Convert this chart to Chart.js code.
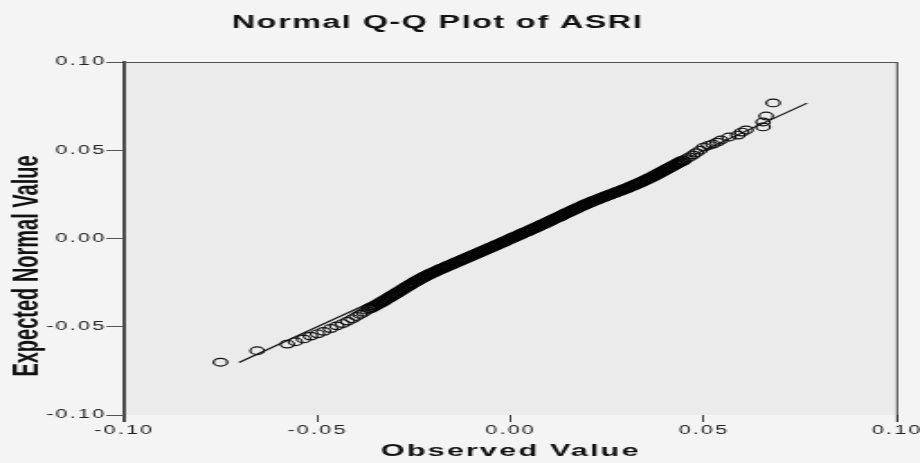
<!DOCTYPE html>
<html><head><meta charset="utf-8">
<script src="https://cdn.jsdelivr.net/npm/chart.js@4"></script>
<style>
html,body{margin:0;padding:0;background:#f4f4f4;overflow:hidden;width:920px;height:463px;}
#wrap{width:511px;height:463px;transform:scale(1.8004,1);transform-origin:0 0;}
canvas{display:block;}
</style></head><body>
<div id="wrap"><canvas id="c" width="511" height="463"></canvas></div>
<script>
const chartTitle = 'Normal Q-Q Plot of ASRI';
const xAxisTitle = 'Observed Value';
const yAxisTitle = 'Expected Normal Value';
const tickValues = [-0.10, -0.05, 0.00, 0.05, 0.10];
const tickLabels = ['-0.10', '-0.05', '0.00', '0.05', '0.10'];

const lowerTailObserved = [-0.0751,-0.0656,-0.0578,-0.0557,-0.0536,-0.0518,-0.0500,-0.0484,-0.0466,-0.0450,-0.0435,-0.0422,-0.0410,-0.0400,-0.0390,-0.0381,-0.0372];
const lowerTailExpected = [-0.0701,-0.0636,-0.0598,-0.0585,-0.0569,-0.0553,-0.0540,-0.0526,-0.0510,-0.0495,-0.0482,-0.0468,-0.0455,-0.0442,-0.0430,-0.0418,-0.0406];

const coreObserved = [
-0.0365,-0.0359,-0.0353,-0.0347,-0.0341,-0.0335,-0.0329,-0.0323,-0.0317,-0.0311,
-0.0305,-0.0299,-0.0293,-0.0287,-0.0281,-0.0275,-0.0269,-0.0263,-0.0257,-0.0251,
-0.0245,-0.0239,-0.0233,-0.0227,-0.0221,-0.0215,-0.0209,-0.0203,-0.0197,-0.0191,
-0.0185,-0.0179,-0.0173,-0.0167,-0.0161,-0.0155,-0.0149,-0.0143,-0.0137,-0.0131,
-0.0125,-0.0119,-0.0113,-0.0107,-0.0101,-0.0095,-0.0089,-0.0083,-0.0077,-0.0071,
-0.0065,-0.0059,-0.0053,-0.0047,-0.0041,-0.0035,-0.0029,-0.0023,-0.0017,-0.0011,
-0.0005,0.0001,0.0007,0.0013,0.0019,0.0025,0.0031,0.0037,0.0043,0.0049,
0.0055,0.0061,0.0067,0.0073,0.0079,0.0085,0.0091,0.0097,0.0103,0.0109,
0.0115,0.0121,0.0127,0.0133,0.0139,0.0145,0.0151,0.0157,0.0163,0.0169,
0.0175,0.0181,0.0187,0.0193,0.0199,0.0205,0.0211,0.0217,0.0223,0.0229,
0.0235,0.0241,0.0247,0.0253,0.0259,0.0265,0.0271,0.0277,0.0283,0.0289,
0.0295,0.0301,0.0307,0.0313,0.0319,0.0325,0.0331,0.0337,0.0343,0.0349,
0.0355,0.0361,0.0367,0.0373,0.0379,0.0385,0.0391,0.0397,0.0403,0.0409,
0.0415,0.0421,0.0427,0.0433,0.0439,0.0445];
const coreExpected = [
-0.0397,-0.0390,-0.0383,-0.0376,-0.0369,-0.0361,-0.0354,-0.0346,-0.0338,-0.0330,
-0.0322,-0.0314,-0.0306,-0.0298,-0.0290,-0.0282,-0.0274,-0.0266,-0.0258,-0.0250,
-0.0242,-0.0235,-0.0228,-0.0221,-0.0214,-0.0208,-0.0201,-0.0195,-0.0189,-0.0183,
-0.0177,-0.0171,-0.0166,-0.0160,-0.0154,-0.0149,-0.0143,-0.0137,-0.0132,-0.0126,
-0.0120,-0.0115,-0.0109,-0.0103,-0.0098,-0.0092,-0.0086,-0.0081,-0.0075,-0.0069,
-0.0064,-0.0058,-0.0052,-0.0047,-0.0041,-0.0035,-0.0029,-0.0024,-0.0018,-0.0012,
-0.0006,0.0000,0.0006,0.0011,0.0017,0.0023,0.0029,0.0035,0.0040,0.0046,
0.0052,0.0058,0.0064,0.0070,0.0076,0.0082,0.0088,0.0094,0.0101,0.0107,
0.0113,0.0119,0.0125,0.0132,0.0138,0.0144,0.0150,0.0157,0.0163,0.0169,
0.0175,0.0181,0.0187,0.0193,0.0198,0.0204,0.0209,0.0215,0.0220,0.0225,
0.0230,0.0235,0.0240,0.0245,0.0250,0.0255,0.0260,0.0265,0.0270,0.0275,
0.0280,0.0285,0.0291,0.0296,0.0302,0.0307,0.0313,0.0319,0.0325,0.0331,
0.0337,0.0344,0.0350,0.0357,0.0364,0.0371,0.0378,0.0385,0.0392,0.0399,
0.0406,0.0413,0.0420,0.0427,0.0434,0.0441];

const upperTailObserved = [0.0455,0.0463,0.0472,0.0480,0.0490,0.0500,0.0512,0.0523,0.0534,0.0544,0.0565,0.0588,0.0598,0.0609,0.0653,0.0653,0.0661,0.0679];
const upperTailExpected = [0.0452,0.0462,0.0474,0.0486,0.0500,0.0518,0.0528,0.0535,0.0546,0.0558,0.0575,0.0586,0.0603,0.0615,0.0632,0.0660,0.0694,0.0768];

const referenceLineEnds = [-0.0703, 0.0767];

const toPoints = (xs, ys) => xs.map((x, i) => ({x: x, y: ys[i]}));
const tailPoints = toPoints(lowerTailObserved.concat(upperTailObserved), lowerTailExpected.concat(upperTailExpected));
const corePoints = toPoints(coreObserved, coreExpected);
const linePoints = referenceLineEnds.map(v => ({x: v, y: v}));

const FONT = "'Liberation Sans', Arial, sans-serif";

const framePlugin = {
  id: 'frame',
  beforeDraw(chart) {
    const {ctx, chartArea: a} = chart;
    ctx.fillStyle = '#ebebeb';
    ctx.fillRect(a.left, a.top, a.right - a.left, a.bottom - a.top);
    ctx.letterSpacing = '1.2px';
  },
  afterDraw(chart) {
    const {ctx, chartArea: a} = chart;
    ctx.save();
    ctx.strokeStyle = '#555';
    ctx.lineWidth = 1;
    ctx.beginPath();
    ctx.moveTo(a.left, a.top + 0.5);
    ctx.lineTo(a.right, a.top + 0.5);
    ctx.stroke();
    ctx.strokeStyle = '#333';
    ctx.lineWidth = 0.9;
    ctx.beginPath();
    ctx.moveTo(a.right, a.top);
    ctx.lineTo(a.right, a.bottom + 7);
    ctx.stroke();
    ctx.strokeStyle = '#4a4a4a';
    ctx.lineWidth = 2;
    ctx.beginPath();
    ctx.moveTo(a.left, a.bottom);
    ctx.lineTo(a.left, a.bottom + 7);
    ctx.stroke();
    // chart title
    ctx.fillStyle = '#111';
    ctx.letterSpacing = '0.8px';
    ctx.font = 'bold 18px ' + FONT;
    ctx.textAlign = 'center';
    ctx.textBaseline = 'alphabetic';
    ctx.fillText(chartTitle, 243, 28);
    // y axis title
    ctx.letterSpacing = '0px';
    ctx.translate(21, 266);
    ctx.rotate(-Math.PI / 2);
    ctx.font = 'bold 20px ' + FONT;
    ctx.fillText(yAxisTitle, 0, 0);
    ctx.restore();
  }
};

new Chart(document.getElementById('c'), {
  type: 'scatter',
  data: {
    datasets: [
      {
        label: 'Observed (tails)',
        data: tailPoints,
        pointStyle: 'circle',
        pointRadius: 3.8,
        pointBorderWidth: 1.2,
        pointBorderColor: '#111',
        pointBackgroundColor: 'rgba(0,0,0,0)',
        showLine: false
      },
      {
        label: 'Observed (core)',
        data: corePoints,
        pointStyle: 'circle',
        pointRadius: 4.0,
        pointBorderWidth: 1.8,
        pointBorderColor: '#050505',
        pointBackgroundColor: 'rgba(0,0,0,0)',
        showLine: false
      },
      {
        label: 'Reference',
        data: linePoints,
        showLine: true,
        borderColor: '#111',
        borderWidth: 1.2,
        pointRadius: 0
      }
    ]
  },
  options: {
    responsive: false,
    animation: false,
    devicePixelRatio: 1,
    layout: {padding: {top: 62, right: 12.7, left: 0, bottom: 0}},
    plugins: {legend: {display: false}, title: {display: false}, tooltip: {enabled: false}},
    scales: {
      x: {
        type: 'linear', min: -0.1, max: 0.1,
        afterBuildTicks: s => { s.ticks = tickValues.map(v => ({value: v})); },
        afterFit: s => { s.height = 48; },
        ticks: {
          callback: (v, i) => tickLabels[i],
          font: {family: FONT, size: 12}, color: '#222', padding: 1,
          maxRotation: 0, autoSkip: false
        },
        grid: {drawOnChartArea: false, drawTicks: true, tickLength: 7, color: '#444', lineWidth: 1},
        border: {display: false},
        title: {display: true, text: xAxisTitle, color: '#111',
          font: {family: FONT, size: 17, weight: 'bold'}, padding: {top: 0, bottom: 1}}
      },
      y: {
        type: 'linear', min: -0.1, max: 0.1,
        afterBuildTicks: s => { s.ticks = tickValues.map(v => ({value: v})); },
        afterFit: s => { s.width = 69; },
        ticks: {
          callback: (v, i) => tickLabels[i],
          font: {family: FONT, size: 12}, color: '#222', padding: 0, autoSkip: false
        },
        grid: {drawOnChartArea: false, drawTicks: true, tickLength: 10, color: '#555', lineWidth: 1},
        border: {display: true, color: '#4a4a4a', width: 2},
        title: {display: false}
      }
    }
  },
  plugins: [framePlugin]
});
</script>
</body></html>
